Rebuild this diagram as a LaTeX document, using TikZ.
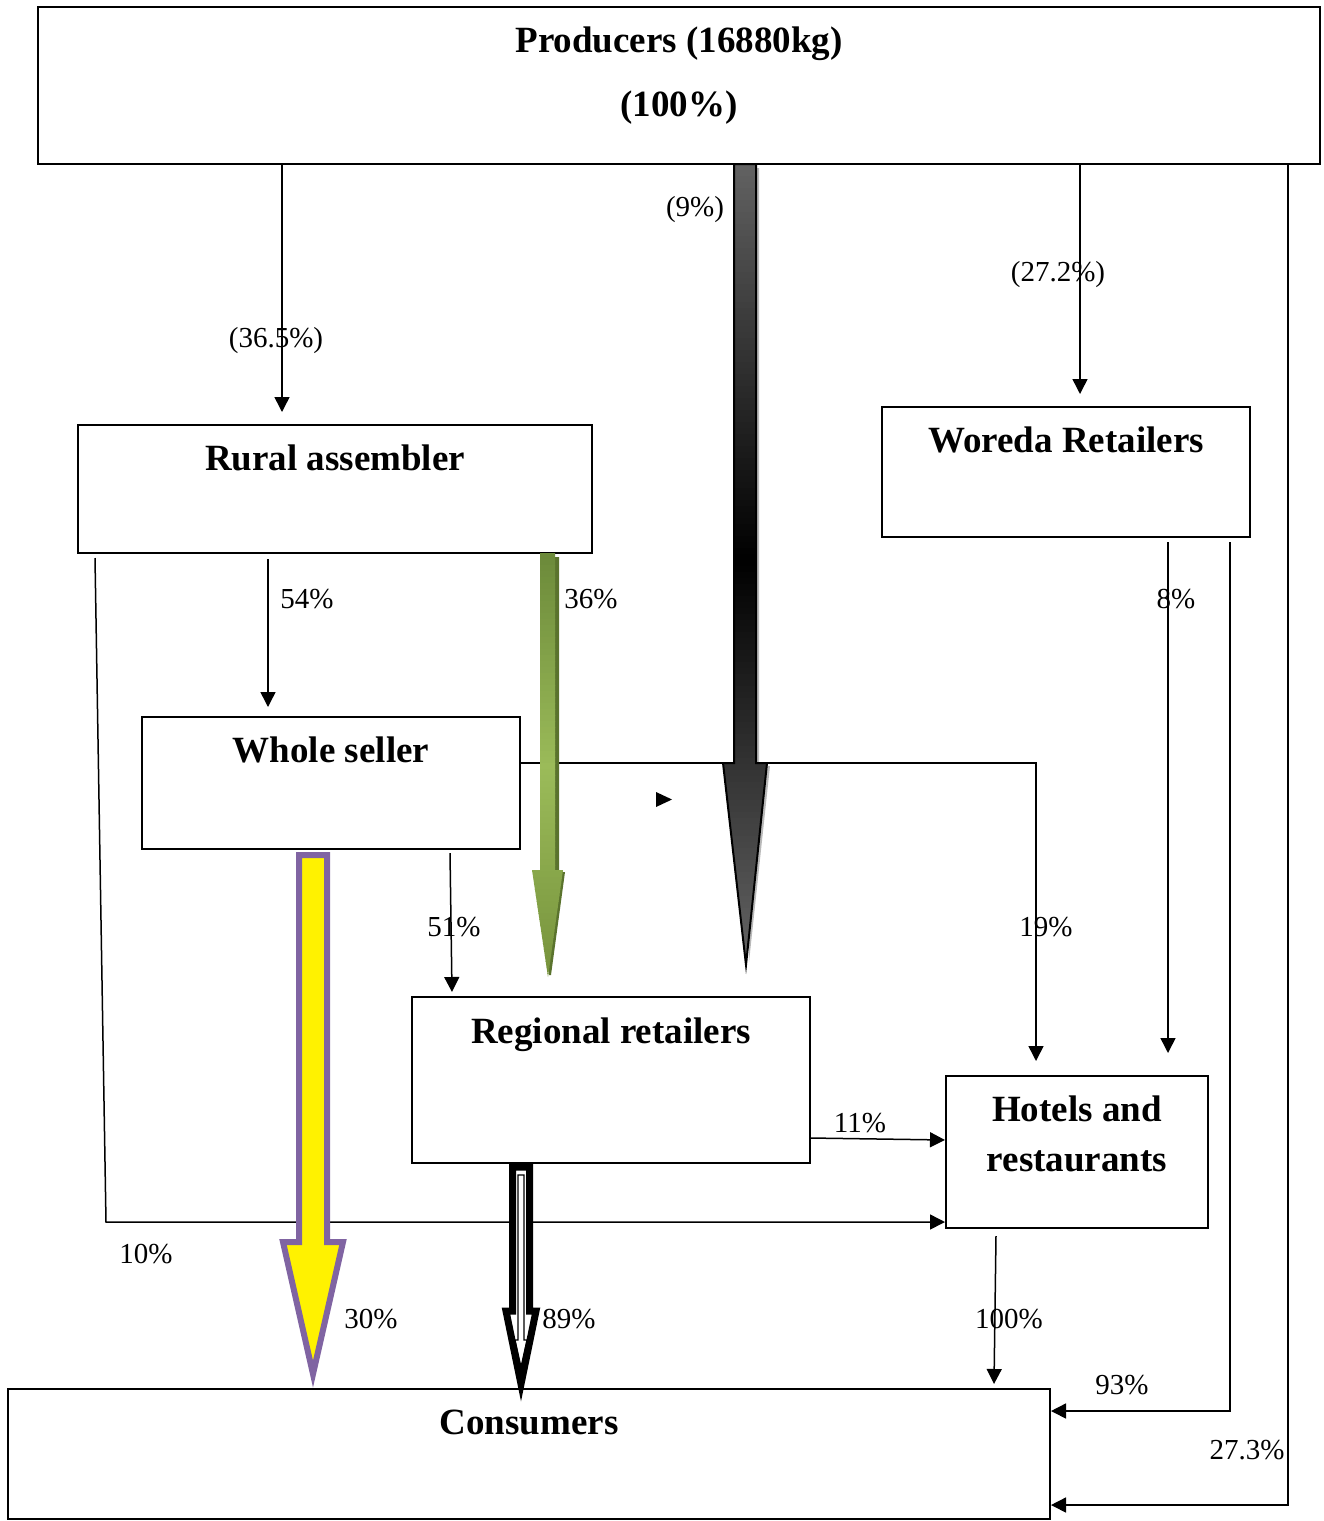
\documentclass[tikz,border=0pt]{standalone}
\usepackage{fontspec}
\setmainfont{Liberation Serif}
\usetikzlibrary{arrows.meta,calc}
\definecolor{purp}{RGB}{128,100,162}
\definecolor{oliveA}{RGB}{108,138,58}
\definecolor{oliveB}{RGB}{155,187,89}
\definecolor{oliveC}{RGB}{118,146,60}
\definecolor{oliveS}{RGB}{90,115,45}
\definecolor{gTop}{RGB}{100,100,100}
\begin{document}
\begin{tikzpicture}[x=0.5pt,y=-0.5pt,
  box/.style={draw,line width=1pt,inner sep=0pt,rectangle},
  btxt/.style={font=\fontsize{18.5}{22}\selectfont\bfseries,anchor=base,inner sep=0pt},
  lab/.style={font=\fontsize{14.5}{17}\selectfont,anchor=base,inner sep=0pt},
  arr/.style={line width=0.75pt,-{Triangle[length=7.5pt,width=7.5pt]}},
  ln/.style={line width=0.75pt}]
\useasboundingbox (0,0) rectangle (1323,1521);
% boxes
\node[box,minimum width=641pt,minimum height=78.5pt] (prod) at (679,85.5) {};
\node[box,minimum width=257pt,minimum height=64pt] (rural) at (335,489) {};
\node[box,minimum width=184pt,minimum height=65pt] (woreda) at (1066,472) {};
\node[box,minimum width=189pt,minimum height=66pt] (whole) at (331,783) {};
\node[box,minimum width=199pt,minimum height=83pt] (regional) at (611,1080) {};
\node[box,minimum width=131pt,minimum height=76pt] (hotels) at (1077,1152) {};
\node[box,minimum width=521pt,minimum height=65pt] (cons) at (529,1454) {};
% box texts
\node[btxt] (prodT1) at (679,52) {Producers (16880kg)};
\node[btxt] (prodT2) at (679,116) {(100\%)};
\node[btxt] (ruralT) at (335,470) {Rural assembler};
\node[btxt] (woredaT) at (1066,452) {Woreda Retailers};
\node[btxt] (wholeT) at (331,762) {Whole seller};
\node[btxt] (regT) at (611,1043) {Regional retailers};
\node[btxt] (hotT1) at (1077,1121) {Hotels and};
\node[btxt] (hotT2) at (1077,1171) {restaurants};
\node[btxt] (consT) at (529,1434) {Consumers};
% coordinates
\coordinate (xa) at (282,0);
\coordinate (xb) at (1080,0);
\coordinate (xc) at (1288,0);
\coordinate (xd) at (1230,542);
\coordinate (xe) at (1168,542);
\coordinate (xf) at (268,0);
\coordinate (g1) at (95,558);
\coordinate (g2) at (106,1222);
\coordinate (h1) at (1036,763);
\coordinate (w1) at (450,853);
\coordinate (w2) at (452,992);
\coordinate (r1) at (810,1138);
\coordinate (r2) at (0,1140);
\coordinate (hc1) at (996,1236);
\coordinate (hc2) at (994,1384);
\coordinate (yc) at (0,1505);
\coordinate (yd) at (0,1411);
% thin connectors
\draw[arr] (prod.south -| xa) -- ([yshift=6pt]rural.north -| xa);
\draw[arr] (prod.south -| xb) -- ([yshift=6pt]woreda.north -| xb);
\draw[arr] (prod.south -| xc) -- (xc |- yc) -- (cons.east |- yc);
\draw[arr] (xd) -- (xd |- yd) -- (cons.east |- yd);
\draw[arr] (xe) -- ([yshift=11pt]hotels.north -| xe);
\draw[arr] ([yshift=-2.5pt]rural.south -| xf) -- ([yshift=4.5pt]whole.north -| xf);
\draw[arr] (g1) -- (g2) -- (hotels.west |- g2);
\draw[arr] (whole.east |- h1) -- (h1) -- ([yshift=7pt]hotels.north -| h1);
\draw[arr] (w1) -- (w2);
\draw[arr] (r1) -- (hotels.west |- r2);
\draw[arr] (hc1) -- (hc2);
% small stray arrowhead
\fill (656,792) -- (672,799.5) -- (656,807) -- cycle;
% labels
\node[lab] (l1) at (276,347) {(36.5\%)};
\node[lab] (l2) at (1058,281) {(27.2\%)};
\node[lab] (l3) at (695,216) {(9\%)};
\node[lab] (l4) at (307,608) {54\%};
\node[lab] (l5) at (591,608) {36\%};
\node[lab] (l6) at (1176,608) {8\%};
\node[lab] (l7) at (454,936) {51\%};
\node[lab] (l8) at (1046,936) {19\%};
\node[lab] (l9) at (860,1132) {11\%};
\node[lab] (l10) at (146,1263) {10\%};
\node[lab] (l11) at (371,1328) {30\%};
\node[lab] (l12) at (569,1328) {89\%};
\node[lab] (l13) at (1009,1328) {100\%};
\node[lab] (l14) at (1122,1394) {93\%};
\node[lab] (l15) at (1247,1459) {27.3\%};
% green block arrow (shadow + striped gradient body)
\fill[oliveS] (543,557) -- (559,557) -- (559,872) -- (565,872) -- (551,975) -- (549,975) -- cycle;
\begin{scope}
\clip (540,553) -- (555,553) -- (555,870) -- (563,870) -- (548,977) -- (532,870) -- (540,870) -- cycle;
\foreach \y in {553,559,...,977} {
  \pgfmathsetmacro\p{\y<765 ? (\y-553)/2.12 : 100-(\y-765)/2.12}
  \pgfmathsetmacro\q{max(0,min(100,\p))}
  \ifdim\y pt<765pt
    \fill[oliveB!\q!oliveA] (528,\y) rectangle (568,\y+7);
  \else
    \fill[oliveB!\q!oliveC] (528,\y) rectangle (568,\y+7);
  \fi
}
\end{scope}
% dark block arrow
\fill[gray!55] (737,168) -- (759,168) -- (759,766) -- (770,766) -- (749,962) -- cycle;
\begin{scope}
\clip (734,164) -- (756,164) -- (756,763) -- (767,763) -- (746,965) -- (723,763) -- (734,763) -- cycle;
\foreach \y in {164,170,...,966} {
  \pgfmathsetmacro\p{max(0,min(100,abs(\y+3-560)/4.05))}
  \fill[gTop!\p!black] (718,\y) rectangle (772,\y+7);
}
\end{scope}
\draw[line width=1pt] (734,164) -- (756,164) -- (756,763) -- (767,763) -- (746,965) -- (723,763) -- (734,763) -- cycle;
% yellow block arrow
\filldraw[fill=yellow,draw=purp,line width=3pt]
  (299,855) -- (327,855) -- (327,1242) -- (343,1242) -- (313,1374) -- (283,1242) -- (299,1242) -- cycle;
% black double block arrow
\filldraw[fill=white,draw=black,line width=3.5pt]
  (512.5,1167) -- (529.5,1167) -- (529.5,1311) -- (536,1311) -- (521,1384) -- (506,1311) -- (512.5,1311) -- cycle;
\draw[line width=0.6pt] (518,1175) -- (524,1175) -- (524,1340) -- (527,1340) -- (521,1367) -- (515,1340) -- (518,1340) -- cycle;
\end{tikzpicture}
\end{document}
